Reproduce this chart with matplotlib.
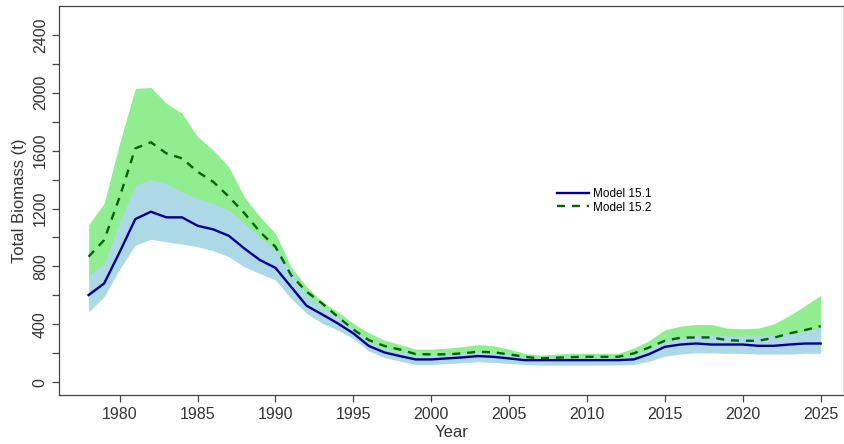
import matplotlib
matplotlib.use('Agg')
import matplotlib.pyplot as plt

plt.rcParams['font.family'] = ['Liberation Sans', 'DejaVu Sans']

years = list(range(1978, 2026))

# Model 15.1 (solid) and its interval
m151 = [602, 682, 900, 1127, 1178, 1139, 1139, 1081, 1056, 1012, 924, 844,
        790, 659, 528, 468, 406, 337, 250, 205, 180, 157, 157, 164, 171, 180,
        175, 164, 152, 152, 152, 152, 152, 152, 152, 157, 194, 244, 260, 267,
        260, 260, 260, 251, 251, 260, 267, 267]
m151_hi = [740, 821, 1107, 1362, 1401, 1374, 1316, 1270, 1236, 1189, 1097, 1005,
           913, 775, 602, 521, 452, 371, 280, 235, 210, 187, 187, 194, 202, 213,
           206, 194, 175, 169, 169, 169, 169, 169, 169, 187, 235, 288, 309, 325,
           327, 320, 320, 320, 325, 337, 355, 378]
m151_lo = [486, 590, 781, 947, 987, 970, 954, 936, 908, 867, 797, 751,
           705, 579, 475, 406, 360, 302, 215, 170, 145, 122, 122, 129, 134, 141,
           136, 129, 122, 118, 118, 118, 118, 118, 118, 122, 145, 180, 194, 202,
           202, 199, 199, 194, 194, 194, 199, 199]

# Model 15.2 (dashed) and its interval
m152 = [867, 982, 1281, 1616, 1658, 1581, 1547, 1454, 1385, 1282, 1168, 1039,
        935, 740, 625, 544, 452, 364, 290, 250, 225, 194, 192, 192, 199, 210,
        206, 192, 175, 164, 169, 173, 175, 175, 175, 199, 240, 286, 307, 309,
        309, 290, 286, 286, 307, 337, 360, 387]
m152_hi = [1086, 1236, 1655, 2030, 2037, 1927, 1858, 1697, 1604, 1489, 1281, 1143,
           1028, 797, 659, 555, 486, 406, 340, 290, 260, 228, 228, 235, 245, 260,
           251, 228, 199, 187, 194, 199, 199, 199, 199, 235, 288, 362, 387, 399,
           399, 373, 369, 373, 403, 460, 530, 599]
m152_lo = [680, 760, 1000, 1300, 1330, 1280, 1250, 1190, 1140, 1080, 1000, 900,
           800, 620, 520, 450, 380, 300, 230, 200, 180, 160, 160, 160, 165, 175,
           170, 160, 150, 140, 145, 148, 150, 150, 150, 165, 200, 240, 255, 260,
           260, 250, 245, 245, 255, 270, 285, 300]

fig = plt.figure(figsize=(8.45, 4.44), dpi=100)
ax = fig.add_axes([0.0698, 0.110, 0.929, 0.8765])

ax.fill_between(years, m152_lo, m152_hi, color='#90EE90', lw=0)
ax.fill_between(years, m151_lo, m151_hi, color='#ADD8E6', lw=0)
ax.plot(years, m151, color='#00008B', lw=1.7, label='Model 15.1')
ax.plot(years, m152, color='#006400', lw=1.7, ls=(0, (3.4, 2.9)), label='Model 15.2')

ax.set_xlim(1976.1, 2026.5)
ax.set_ylim(-90, 2600)
ax.set_xticks(range(1980, 2026, 5))
yt = list(range(0, 2600, 200))
ax.set_yticks(yt)
ax.set_yticklabels([str(v) if v % 400 == 0 else '' for v in yt],
                   rotation=90, va='center')
ax.tick_params(axis='both', labelsize=11.5, length=5, width=0.9,
               color='#444444', labelcolor='#333333')
ax.tick_params(axis='y', pad=3)
for s in ax.spines.values():
    s.set_color('#444444')
    s.set_linewidth(0.9)

ax.set_xlabel('Year', fontsize=12, color='#333333', labelpad=2)
ax.set_ylabel('Total Biomass (t)', fontsize=12, color='#333333', labelpad=4)

ax.legend(loc='upper left', bbox_to_anchor=(0.627, 0.548), frameon=False,
          fontsize=8.5, handlelength=2.7, handletextpad=0.35, labelspacing=0.15,
          borderpad=0)

fig.savefig('out.png', dpi=100)
